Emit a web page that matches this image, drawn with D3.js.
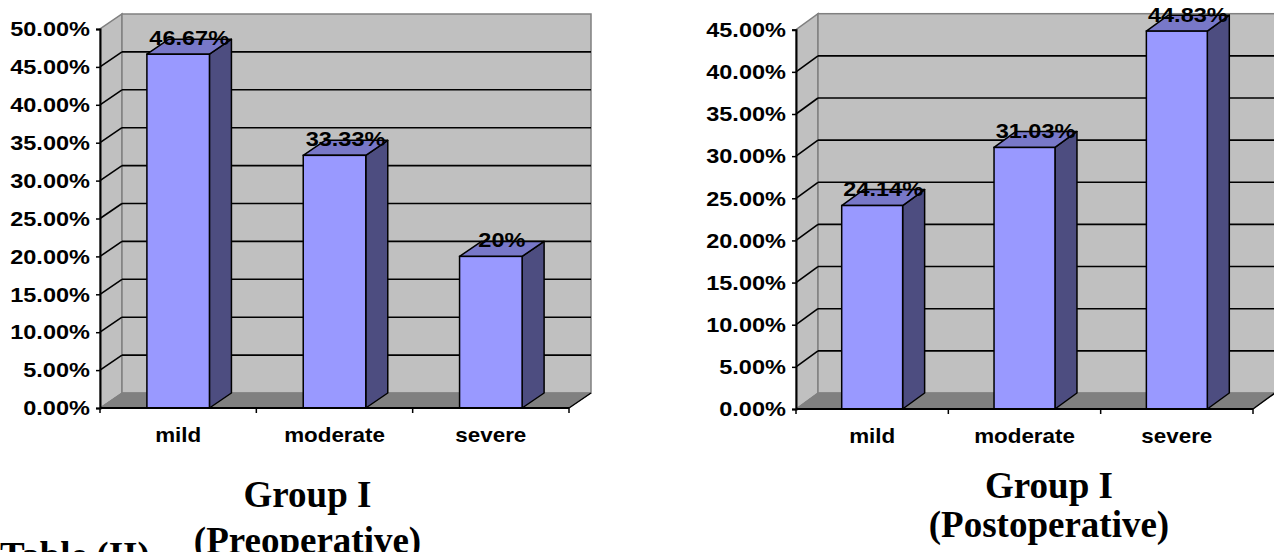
<!DOCTYPE html>
<html>
<head>
<meta charset="utf-8">
<script src="https://cdn.jsdelivr.net/npm/d3@7"></script>
<style>
  html, body { margin: 0; padding: 0; background: #ffffff; overflow: hidden; }
  svg { display: block; }
</style>
</head>
<body>
<svg id="chart" width="1274" height="552"></svg>
<script>
// Severity distribution, Group I, before and after surgery (percent)
const categories = ["mild", "moderate", "severe"];
const preValues = [46.67, 33.33, 20];
const postValues = [24.14, 31.03, 44.83];
const preTicks = [0, 5, 10, 15, 20, 25, 30, 35, 40, 45, 50];
const postTicks = [0, 5, 10, 15, 20, 25, 30, 35, 40, 45];
const preTitle = ["Group I", "(Preoperative)"];
const postTitle = ["Group I", "(Postoperative)"];
const tableLabel = "Table (II)";

const svg = d3.select("#chart");
const SANS = "'Liberation Sans', Arial, sans-serif";
const SERIF = "'Liberation Serif', 'Times New Roman', serif";
const STRETCH = 1.12; // chart text is drawn slightly wide

const colors = {
  wall: "#c0c0c0",
  wallEdge: "#808080",
  floor: "#808080",
  front: "#9999ff",
  side: "#4d4d80",
  top: "#7878c8",
  ink: "#000000"
};

function drawChart(opt) {
  const g = svg.append("g");
  const { x0, x1, yBase, yTop, dx, dy, values, ticks } = opt;
  const yMax = ticks[ticks.length - 1];

  const y = d3.scaleLinear().domain([0, yMax]).range([yBase, yTop]);
  const x = d3.scaleBand().domain(categories).range([x0, x1])
    .paddingInner(0.6).paddingOuter(0.3);
  const step = x.step();

  // left side wall
  g.append("path")
    .attr("d", `M${x0},${y(0)}L${x0},${y(yMax)}L${x0 + dx},${y(yMax) - dy}L${x0 + dx},${y(0) - dy}Z`)
    .attr("fill", colors.wall).attr("stroke", colors.wallEdge).attr("stroke-width", 1.5);

  // back wall
  g.append("rect")
    .attr("x", x0 + dx).attr("y", y(yMax) - dy)
    .attr("width", x1 - x0).attr("height", y(0) - y(yMax))
    .attr("fill", colors.wall).attr("stroke", colors.wallEdge).attr("stroke-width", 1.5);

  // floor
  g.append("path")
    .attr("d", `M${x0},${y(0)}L${x1},${y(0)}L${x1 + dx},${y(0) - dy}L${x0 + dx},${y(0) - dy}Z`)
    .attr("fill", colors.floor).attr("stroke", colors.wallEdge).attr("stroke-width", 1);

  // gridlines on back wall and side wall
  const inner = ticks.filter(t => t > 0 && t < yMax);
  g.append("g").selectAll("line.back").data(inner).join("line")
    .attr("x1", x0 + dx).attr("x2", x1 + dx)
    .attr("y1", d => y(d) - dy).attr("y2", d => y(d) - dy)
    .attr("stroke", colors.ink).attr("stroke-width", 1.6);
  g.append("g").selectAll("line.side").data(inner).join("line")
    .attr("x1", x0).attr("x2", x0 + dx)
    .attr("y1", d => y(d)).attr("y2", d => y(d) - dy)
    .attr("stroke", colors.ink).attr("stroke-width", 1.6);

  // bars as boxes
  const bars = g.append("g").selectAll("g").data(categories.map((c, i) => ({ c, v: values[i] }))).join("g");
  bars.append("path")
    .attr("d", d => {
      const l = x(d.c), r = l + x.bandwidth(), t = y(d.v), b = y(0);
      return `M${r},${b}L${r},${t}L${r + dx},${t - dy}L${r + dx},${b - dy}Z`;
    })
    .attr("fill", colors.side).attr("stroke", colors.ink).attr("stroke-width", 1.5).attr("stroke-linejoin", "round");
  bars.append("path")
    .attr("d", d => {
      const l = x(d.c), r = l + x.bandwidth(), t = y(d.v);
      return `M${l},${t}L${r},${t}L${r + dx},${t - dy}L${l + dx},${t - dy}Z`;
    })
    .attr("fill", colors.top).attr("stroke", colors.ink).attr("stroke-width", 1.5).attr("stroke-linejoin", "round");
  bars.append("rect")
    .attr("x", d => x(d.c)).attr("y", d => y(d.v))
    .attr("width", x.bandwidth()).attr("height", d => y(0) - y(d.v))
    .attr("fill", colors.front).attr("stroke", colors.ink).attr("stroke-width", 1.5);

  // value labels
  g.append("g").selectAll("text").data(categories.map((c, i) => ({ c, v: values[i] }))).join("text")
    .attr("transform", d => `translate(${x(d.c) + x.bandwidth() / 2 + dx / 2},${y(d.v) - 9.5}) scale(${STRETCH},1)`)
    .attr("text-anchor", "middle")
    .attr("font-family", SANS).attr("font-weight", "bold").attr("font-size", 21)
    .attr("fill", colors.ink)
    .text(d => `${+d.v.toFixed(2)}%`);

  // value axis
  const yAxis = d3.axisLeft(y).tickValues(ticks).tickSize(4).tickPadding(5)
    .tickFormat(d => d.toFixed(2) + "%");
  const ya = g.append("g").attr("transform", `translate(${x0},0)`).call(yAxis);
  ya.select(".domain").attr("stroke", colors.ink).attr("stroke-width", 2);
  ya.selectAll(".tick line").attr("stroke", colors.ink).attr("stroke-width", 1.5);
  ya.selectAll(".tick text")
    .attr("font-family", SANS).attr("font-weight", "bold").attr("font-size", 21)
    .attr("fill", colors.ink)
    .attr("transform", `scale(${STRETCH},1)`);

  // category axis: baseline, right depth edge, ticks between categories
  g.append("line").attr("x1", x0).attr("x2", x1).attr("y1", y(0)).attr("y2", y(0))
    .attr("stroke", colors.ink).attr("stroke-width", 2);
  g.append("line").attr("x1", x1).attr("x2", x1 + dx).attr("y1", y(0)).attr("y2", y(0) - dy)
    .attr("stroke", colors.ink).attr("stroke-width", 1.5);
  const bounds = d3.range(categories.length + 1).map(i => x0 + i * step);
  g.append("g").selectAll("line").data(bounds).join("line")
    .attr("x1", d => d).attr("x2", d => d)
    .attr("y1", y(0)).attr("y2", y(0) + 5)
    .attr("stroke", colors.ink).attr("stroke-width", 1.5);
  g.append("g").selectAll("text").data(categories).join("text")
    .attr("transform", d => `translate(${x(d) + x.bandwidth() / 2},${y(0) + 34}) scale(${STRETCH},1)`)
    .attr("text-anchor", "middle")
    .attr("font-family", SANS).attr("font-weight", "bold").attr("font-size", 20)
    .attr("fill", colors.ink)
    .text(d => d);

  // title
  const t = svg.append("text")
    .attr("text-anchor", "middle")
    .attr("font-family", SERIF).attr("font-weight", "bold").attr("font-size", 37)
    .attr("fill", colors.ink);
  opt.title.forEach((line, i) => {
    t.append("tspan").attr("x", opt.titleX).attr("y", opt.titleY[i]).text(line);
  });
}

drawChart({
  x0: 100, x1: 569, yBase: 408, yTop: 29, dx: 22, dy: 15,
  values: preValues, ticks: preTicks,
  title: preTitle, titleX: 307.5, titleY: [507, 553]
});

drawChart({
  x0: 796, x1: 1253, yBase: 409, yTop: 29.7, dx: 22, dy: 16,
  values: postValues, ticks: postTicks,
  title: postTitle, titleX: 1049, titleY: [498, 537]
});

svg.append("text")
  .attr("x", 0).attr("y", 568)
  .attr("font-family", SERIF).attr("font-weight", "bold").attr("font-size", 37)
  .attr("fill", colors.ink)
  .text(tableLabel);
</script>
</body>
</html>
